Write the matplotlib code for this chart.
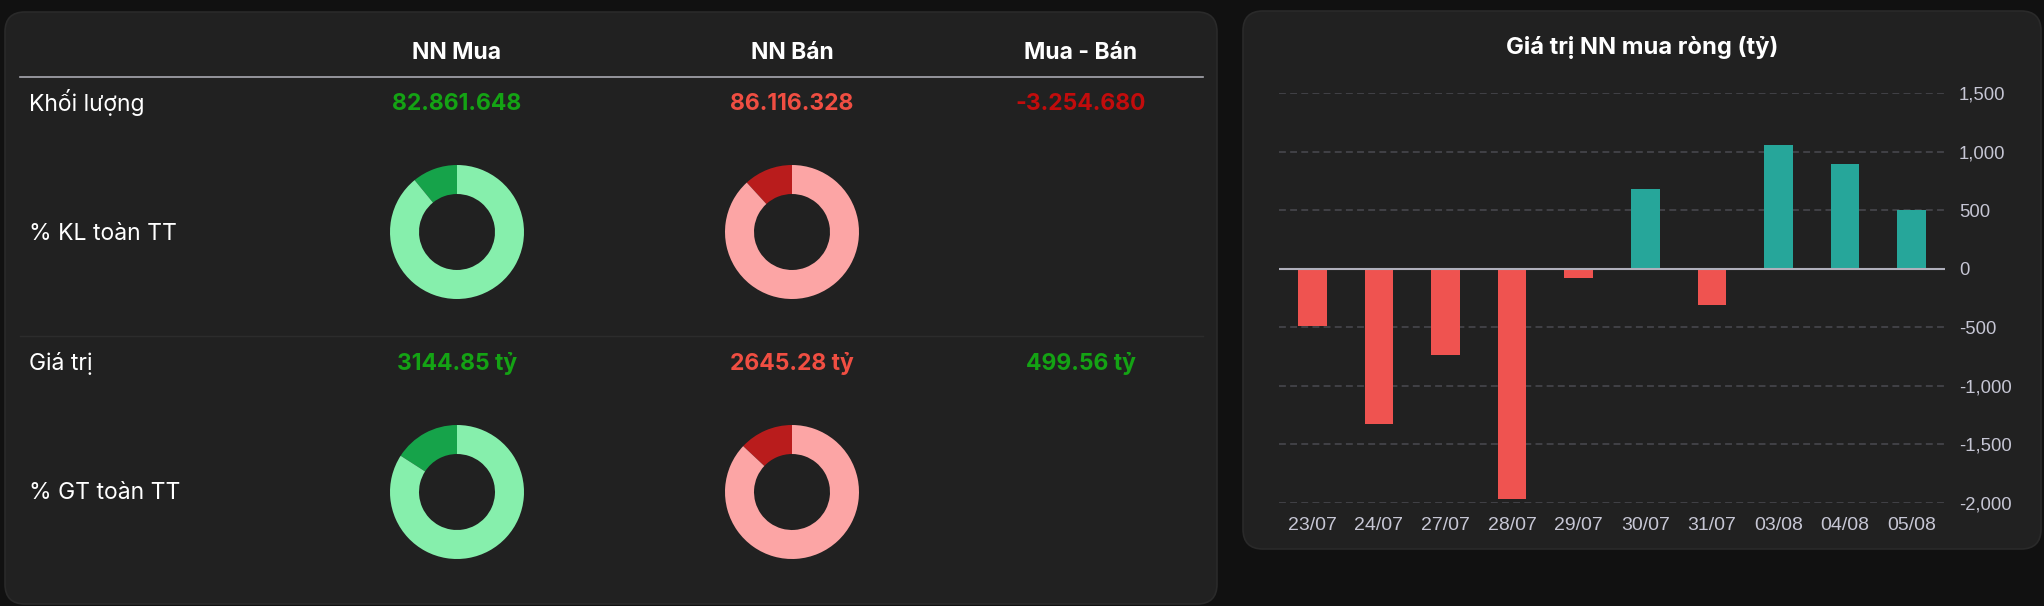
import matplotlib
matplotlib.use("Agg")
import matplotlib.pyplot as plt
from matplotlib.patches import FancyBboxPatch
from matplotlib.ticker import FuncFormatter

# ---------------- data ----------------
columns = ["NN Mua", "NN Bán", "Mua - Bán"]
row_labels = ["Khối lượng", "% KL toàn TT", "Giá trị", "% GT toàn TT"]
volume_values = ["82.861.648", "86.116.328", "-3.254.680"]
value_values = ["3144.85 tỷ", "2645.28 tỷ", "499.56 tỷ"]
kl_share = [10.9, 11.8]          # % of market volume (buy, sell)
gt_share = [15.9, 13.0]          # % of market value (buy, sell)

dates = ["23/07", "24/07", "27/07", "28/07", "29/07", "30/07", "31/07", "03/08", "04/08", "05/08"]
net_values = [-487, -1322, -734, -1970, -79, 681, -309, 1056, 891, 499.56]
y_ticks = [-2000, -1500, -1000, -500, 0, 500, 1000, 1500]
chart_title = "Giá trị NN mua ròng (tỷ)"

# ---------------- style ----------------
W, H = 2044, 606
BG = "#111111"
PANEL = "#212121"
PANEL_EDGE = "#2a2a2a"
GREEN_TXT = "#14a314"
RED_TXT = "#f04e42"
DARKRED_TXT = "#c20c0c"
BUY_LIGHT, BUY_DARK = "#86efac", "#16a34a"
SELL_LIGHT, SELL_DARK = "#fca5a5", "#b91c1c"
BAR_UP, BAR_DOWN = "#26a69a", "#ef5350"
TICK_COLOR = "#c6c6d4"
TFONT = ["Inter", "DejaVu Sans"]
CFONT = ["Liberation Sans", "DejaVu Sans"]

fig = plt.figure(figsize=(W / 100, H / 100), dpi=100, facecolor=BG)

# background axes in pixel coordinates
bg = fig.add_axes([0, 0, 1, 1])
bg.set_xlim(0, W)
bg.set_ylim(H, 0)
bg.axis("off")
bg.set_zorder(0)

for (x0, y0, x1, y1) in [(5, 12, 1217, 604), (1243, 11, 2041, 549)]:
    bg.add_patch(FancyBboxPatch((x0, y0), x1 - x0, y1 - y0,
                                boxstyle="round,pad=0,rounding_size=20",
                                facecolor=PANEL, edgecolor=PANEL_EDGE, linewidth=1.2))

# ---------------- table ----------------
col_x = [457, 792, 1081]
label_x = 29
header_base = 59
for cx, name in zip(col_x, columns):
    bg.text(cx, header_base, name, ha="center", va="baseline", color="white",
            fontsize=16.5, fontweight="bold", family=TFONT)
bg.plot([20, 1203], [77, 77], color="#a8a8b0", lw=1.2)
bg.plot([20, 1203], [336, 336], color="#2c2c2c", lw=1.0)

row_base = [111, 240, 370, 499]
for y, lab in zip(row_base, row_labels):
    bg.text(label_x, y, lab, ha="left", va="baseline", color="white",
            fontsize=16.5, family=TFONT)

vol_colors = [GREEN_TXT, RED_TXT, DARKRED_TXT]
for cx, v, c in zip(col_x, volume_values, vol_colors):
    bg.text(cx, 110, v, ha="center", va="baseline", color=c,
            fontsize=16.5, fontweight="bold", family=TFONT)
val_colors = [GREEN_TXT, RED_TXT, GREEN_TXT]
for cx, v, c in zip(col_x, value_values, val_colors):
    bg.text(cx, 370, v, ha="center", va="baseline", color=c,
            fontsize=16.5, fontweight="bold", family=TFONT)

# donuts
R = 67
def donut(cx, cy, pct, dark, light):
    ax = fig.add_axes([(cx - R) / W, (H - cy - R) / H, 2 * R / W, 2 * R / H])
    ax.set_facecolor("none")
    ax.pie([pct, 100 - pct], colors=[dark, light], startangle=90,
           counterclock=True, radius=1.0,
           wedgeprops=dict(width=0.433, linewidth=0))
    ax.set_xlim(-1, 1)
    ax.set_ylim(-1, 1)
    ax.set_aspect("equal")
    ax.axis("off")

donut(col_x[0], 232, kl_share[0], BUY_DARK, BUY_LIGHT)
donut(col_x[1], 232, kl_share[1], SELL_DARK, SELL_LIGHT)
donut(col_x[0], 492, gt_share[0], BUY_DARK, BUY_LIGHT)
donut(col_x[1], 492, gt_share[1], SELL_DARK, SELL_LIGHT)

# ---------------- bar chart ----------------
px_left, px_right, px_top, px_bottom = 1279, 1945, 93, 503
ax = fig.add_axes([px_left / W, (H - px_bottom) / H, (px_right - px_left) / W,
                   (px_bottom - px_top) / H])
ax.set_facecolor("none")
x = list(range(len(dates)))
colors = [BAR_UP if v >= 0 else BAR_DOWN for v in net_values]
ax.bar(x, net_values, width=0.43, color=colors, zorder=3)
ax.set_xlim(-0.5, len(dates) - 0.5)
ax.set_ylim(y_ticks[0], y_ticks[-1])
ax.set_yticks(y_ticks)
ax.set_xticks(x)
ax.set_xticklabels(dates)
ax.yaxis.tick_right()
ax.yaxis.set_major_formatter(FuncFormatter(lambda v, p: f"{int(v):,}"))
for t in y_ticks:
    if t == 0:
        continue
    ax.axhline(t, color="#4a4a50", lw=1.1, dashes=(4.5, 2.8), zorder=1)
ax.axhline(0, color="#b0b0bc", lw=1.5, zorder=4)
for s in ax.spines.values():
    s.set_visible(False)
ax.tick_params(axis="both", length=0)
ax.tick_params(axis="y", pad=10, labelsize=13.3, labelcolor=TICK_COLOR)
ax.tick_params(axis="x", pad=10, labelsize=14, labelcolor=TICK_COLOR)
for lab in ax.get_xticklabels() + ax.get_yticklabels():
    lab.set_family(CFONT)

bg.text(1642, 54, chart_title, ha="center", va="baseline", color="white",
        fontsize=17.1, fontweight="bold", family=TFONT)

fig.savefig("out.png", dpi=100, facecolor=BG)
